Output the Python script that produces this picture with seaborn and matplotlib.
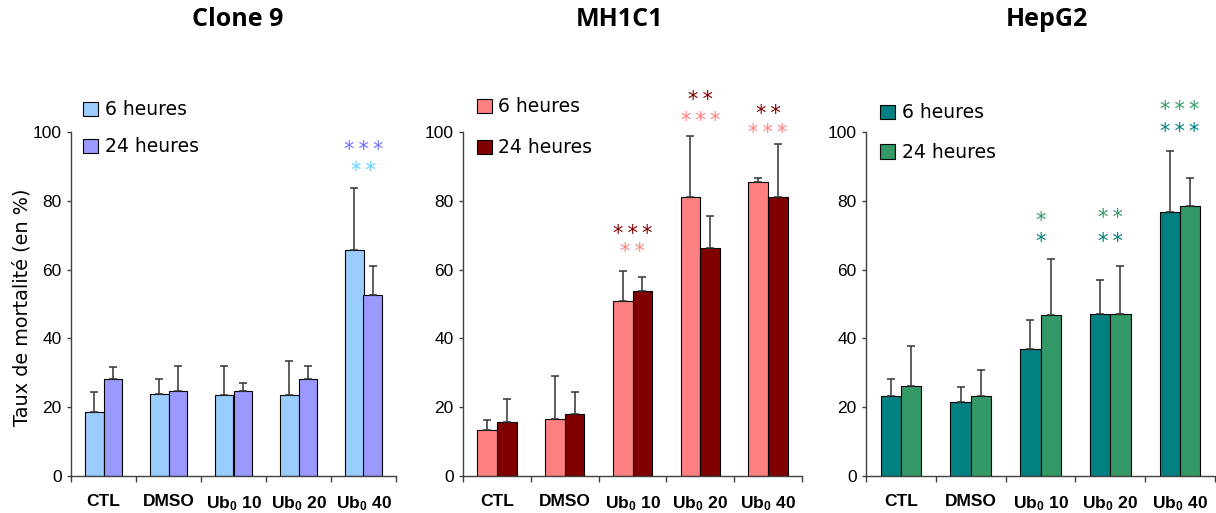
import matplotlib
matplotlib.use("Agg")
import matplotlib.pyplot as plt
import numpy as np
import pandas as pd
import seaborn as sns

# Data
categories = ["CTL", "DMSO", "Ub$_0$ 10", "Ub$_0$ 20", "Ub$_0$ 40"]
series = ["6 heures", "24 heures"]

clone9_6h = [18.7, 23.9, 23.6, 23.6, 65.8]
clone9_6h_err = [5.6, 4.2, 8.4, 9.7, 17.9]
clone9_24h = [28.1, 24.7, 24.7, 28.1, 52.5]
clone9_24h_err = [3.5, 7.3, 2.2, 3.9, 8.6]

mh1c1_6h = [13.4, 16.7, 50.9, 81.2, 85.4]
mh1c1_6h_err = [2.9, 12.5, 8.8, 17.5, 1.3]
mh1c1_24h = [15.8, 18.0, 53.8, 66.2, 81.2]
mh1c1_24h_err = [6.5, 6.4, 3.9, 9.5, 15.4]

hepg2_6h = [23.3, 21.5, 37.0, 47.2, 76.7]
hepg2_6h_err = [5.0, 4.3, 8.2, 9.9, 17.8]
hepg2_24h = [26.2, 23.3, 46.8, 47.2, 78.6]
hepg2_24h_err = [11.6, 7.6, 16.2, 13.7, 8.0]

# significance marks: (category index, stars, height, series index)
clone9_stars = [(4, "***", 95.8, 1), (4, "**", 89.8, 0)]
mh1c1_stars = [(2, "***", 71.4, 1), (2, "**", 66.1, 0),
               (3, "**", 110.2, 1), (3, "***", 104.3, 0),
               (4, "**", 106.2, 1), (4, "***", 100.7, 0)]
hepg2_stars = [(2, "*", 75.3, 1), (2, "*", 69.0, 0),
               (3, "**", 76.0, 1), (3, "**", 69.0, 0),
               (4, "***", 107.5, 1), (4, "***", 101.0, 0)]

panels = [
    dict(title="Clone 9", vals=[clone9_6h, clone9_24h], errs=[clone9_6h_err, clone9_24h_err],
         colors=["#99CCFF", "#9999FF"], star_colors=["#66CCFF", "#7070FF"], stars=clone9_stars,
         pos=[71, 396], leg=(0.037, 0.925), legsp=0.96, title_x=238),
    dict(title="MH1C1", vals=[mh1c1_6h, mh1c1_24h], errs=[mh1c1_6h_err, mh1c1_24h_err],
         colors=["#FF8080", "#800000"], star_colors=["#FF8080", "#800000"], stars=mh1c1_stars,
         pos=[463, 802], leg=(0.041, 0.933), legsp=1.18, title_x=620),
    dict(title="HepG2", vals=[hepg2_6h, hepg2_24h], errs=[hepg2_6h_err, hepg2_24h_err],
         colors=["#008080", "#339966"], star_colors=["#008080", "#339966"], stars=hepg2_stars,
         pos=[866, 1215], leg=(0.040, 0.918), legsp=1.11, title_x=1047),
]

sns.set_theme(style="white")
plt.rcParams["font.family"] = ["Liberation Sans", "DejaVu Sans"]
plt.rcParams["text.color"] = "black"
plt.rcParams["xtick.labelcolor"] = "black"
plt.rcParams["ytick.labelcolor"] = "black"
plt.rcParams["mathtext.fontset"] = "custom"
plt.rcParams["mathtext.rm"] = "Liberation Sans"
plt.rcParams["mathtext.bf"] = "Liberation Sans:bold"
plt.rcParams["mathtext.default"] = "bf"

W, H = 1216, 513
fig = plt.figure(figsize=(W / 100, H / 100), dpi=100)
ax_bottom, ax_top = 476, 70
ymax = 118

for i, p in enumerate(panels):
    left, right = p["pos"]
    ax = fig.add_axes([left / W, (H - ax_bottom) / H, (right - left) / W, (ax_bottom - ax_top) / H])

    df = pd.DataFrame({
        "condition": categories * 2,
        "time": [series[0]] * 5 + [series[1]] * 5,
        "value": p["vals"][0] + p["vals"][1],
    })
    sns.barplot(data=df, x="condition", y="value", hue="time", order=categories,
                hue_order=series, palette=p["colors"], edgecolor="black", linewidth=0.8,
                width=0.58, gap=0, errorbar=None, legend=False, ax=ax, saturation=1)
    bars = list(ax.containers)

    # upward-only error bars
    for k, cont in enumerate(bars):
        xs = [b.get_x() + b.get_width() / 2 for b in cont]
        ax.errorbar(xs, p["vals"][k], yerr=[np.zeros(5), p["errs"][k]], fmt="none",
                    ecolor="#333333", elinewidth=1.1, capsize=3.2, capthick=1.1, zorder=1)

    for cat, s, y, ser in p["stars"]:
        ax.annotate("\u2009".join(s), (cat, y), xytext=(0, -6.9), textcoords="offset points",
                    ha="center", va="baseline", fontsize=15, family="DejaVu Sans",
                    color=p["star_colors"][ser], annotation_clip=False)

    ax.set_xlim(-0.5, 4.5)
    ax.set_ylim(0, ymax)
    ax.set_yticks([0, 20, 40, 60, 80, 100])
    ax.set_xlabel("")
    ax.set_ylabel("")
    sns.despine(ax=ax)
    ax.spines["left"].set_bounds(0, 100)
    for sp in ["left", "bottom"]:
        ax.spines[sp].set_color("#404040")
        ax.spines[sp].set_linewidth(1.0)

    ax.set_xticks(np.arange(-0.5, 5, 1), minor=True)
    ax.tick_params(axis="x", which="minor", bottom=True, length=4, width=1.0, color="#404040")
    ax.tick_params(axis="x", which="major", bottom=False, length=0, pad=13)
    ax.tick_params(axis="y", left=True, length=3, width=1.0, color="#404040", pad=3.6)
    for lab in ax.get_xticklabels():
        lab.set_fontweight("bold")
        lab.set_fontsize(12.5)
    for lab in ax.get_yticklabels():
        lab.set_fontsize(12.5)

    ax.legend(handles=bars, labels=series, loc="upper left",
              bbox_to_anchor=p["leg"], frameon=False, handlelength=0.8, handleheight=0.8,
              handletextpad=0.35, labelspacing=p["legsp"], borderpad=0, borderaxespad=0,
              prop={"family": "DejaVu Sans", "size": 13.5})

    fig.text(p["title_x"] / W, 1 - 20 / H, p["title"], ha="center", va="center",
             fontsize=18, fontweight="bold", family="Open Sans")

fig.text(22 / W, 1 - 307 / H, "Taux de mortalité (en %)", rotation=90, ha="center",
         va="center", fontsize=13.9, family="DejaVu Sans")

fig.savefig("out.png", dpi=100)
